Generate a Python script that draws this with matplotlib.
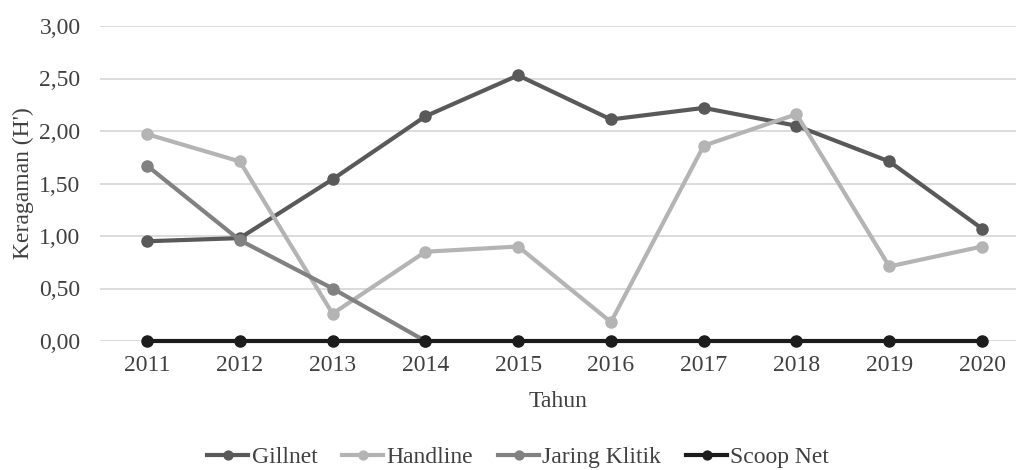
import numpy as np
import matplotlib.pyplot as plt

# data
years = ["2011", "2012", "2013", "2014", "2015", "2016", "2017", "2018", "2019", "2020"]
gillnet = [0.95, 0.98, 1.54, 2.14, 2.53, 2.11, 2.22, 2.05, 1.71, 1.07]
handline = [1.97, 1.71, 0.26, 0.85, 0.90, 0.18, 1.86, 2.16, 0.71, 0.90]
jaring_klitik = [1.67, 0.96, 0.50, 0.00, np.nan, np.nan, np.nan, np.nan, np.nan, np.nan]
scoop_net = [0, 0, 0, 0, 0, 0, 0, 0, 0, 0]
y_ticks = [0, 0.5, 1.0, 1.5, 2.0, 2.5, 3.0]

plt.rcParams['font.family'] = ['Liberation Serif', 'DejaVu Serif']

fig = plt.figure(figsize=(10.16, 4.70), dpi=100)
ax = fig.add_axes([100/1016, 1 - 341/470, 916/1016, 315/470])

x = np.arange(len(years))
series = [("Gillnet", gillnet, "#595959"),
          ("Handline", handline, "#b4b4b4"),
          ("Jaring Klitik", jaring_klitik, "#818181"),
          ("Scoop Net", scoop_net, "#1c1c1c")]
for name, vals, col in series:
    ax.plot(x, vals, color=col, lw=3, marker="o", ms=8, label=name, zorder=3, clip_on=False)

ax.set_xlim(-0.507, 9.366)
ax.set_ylim(0, 3)
ax.set_yticks(y_ticks)
ax.set_yticklabels([("%.2f" % v).replace(".", ",") for v in y_ticks])
ax.set_xticks(x)
ax.set_xticklabels(years)
ax.grid(axis="y", color="#d9d9d9", lw=1.3, zorder=0)
for s in ax.spines.values():
    s.set_visible(False)
ax.tick_params(length=0, labelsize=17, colors="#404040", pad=10)
ax.tick_params(axis="y", pad=14)

ax.set_xlabel("Tahun", fontsize=17, color="#404040", labelpad=11)
ax.set_ylabel("Keragaman (H')", fontsize=17, color="#404040", labelpad=4)

fig.legend(loc="center", bbox_to_anchor=(0.51, 1 - 457/470), ncol=4, frameon=False,
           fontsize=17, handlelength=1.75, handletextpad=0.13, columnspacing=1.05,
           labelcolor="#404040", markerscale=0.8)

fig.savefig("out.png", dpi=100)
